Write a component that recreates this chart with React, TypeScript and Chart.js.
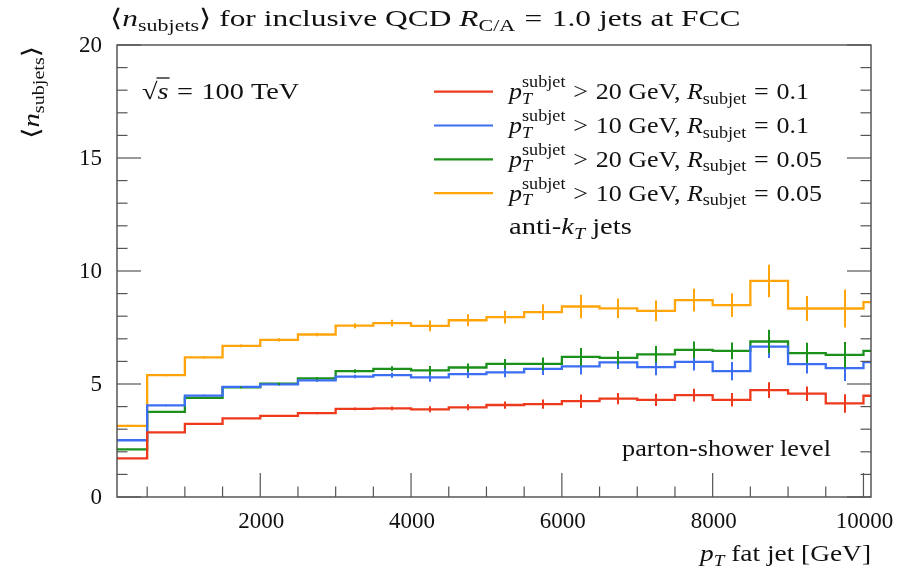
import React, { useEffect, useRef } from "react";
import { Chart, registerables } from "chart.js";

Chart.register(...registerables);

// ---- data ----
const binEdges = [0, 500, 1000, 1500, 2000, 2500, 3000, 3500, 4000, 4500, 5000, 5500, 6000, 6500, 7000, 7500, 8000, 8500, 9000, 9500, 10000];
const lastEdge = 10500;

const redVals = [1.71, 2.86, 3.24, 3.48, 3.59, 3.71, 3.90, 3.92, 3.88, 3.97, 4.07, 4.11, 4.24, 4.35, 4.30, 4.51, 4.30, 4.73, 4.57, 4.14, 4.48];
const blueVals = [2.51, 4.05, 4.49, 4.87, 4.98, 5.16, 5.33, 5.39, 5.29, 5.44, 5.51, 5.67, 5.78, 5.96, 5.75, 5.98, 5.57, 6.65, 5.88, 5.70, 5.97];
const greenVals = [2.11, 3.77, 4.39, 4.85, 5.01, 5.25, 5.57, 5.67, 5.60, 5.73, 5.89, 5.89, 6.20, 6.16, 6.31, 6.51, 6.47, 6.88, 6.37, 6.29, 6.47];
const orangeVals = [3.15, 5.39, 6.18, 6.69, 6.95, 7.19, 7.58, 7.69, 7.57, 7.82, 7.96, 8.18, 8.43, 8.35, 8.24, 8.71, 8.49, 9.56, 8.34, 8.34, 8.62];

const redErr = [0.02, 0.02, 0.02, 0.03, 0.04, 0.05, 0.06, 0.08, 0.13, 0.13, 0.16, 0.20, 0.30, 0.25, 0.27, 0.28, 0.30, 0.35, 0.32, 0.41, 0.33];
const blueErr = [0.03, 0.03, 0.03, 0.04, 0.05, 0.06, 0.08, 0.11, 0.19, 0.18, 0.21, 0.27, 0.36, 0.30, 0.36, 0.38, 0.40, 0.50, 0.42, 0.57, 0.45];
const greenErr = [0.03, 0.03, 0.03, 0.04, 0.05, 0.06, 0.08, 0.11, 0.20, 0.18, 0.22, 0.28, 0.39, 0.30, 0.37, 0.37, 0.37, 0.52, 0.45, 0.57, 0.45];
const orangeErr = [0.05, 0.05, 0.05, 0.06, 0.07, 0.08, 0.11, 0.15, 0.24, 0.27, 0.28, 0.35, 0.52, 0.43, 0.46, 0.50, 0.52, 0.72, 0.55, 0.84, 0.60];

const xMajorTicks = [2000, 4000, 6000, 8000, 10000];
const xMinorTicks = [500, 1000, 1500, 2500, 3000, 3500, 4500, 5000, 5500, 6500, 7000, 7500, 8500, 9000, 9500];
const yMajorTicks = [0, 5, 10, 15, 20];
const yMinorTicks = [1, 2, 3, 4, 6, 7, 8, 9, 11, 12, 13, 14, 16, 17, 18, 19];

const legendCuts = [
  { pt: "20", r: "0.1" },
  { pt: "10", r: "0.1" },
  { pt: "20", r: "0.05" },
  { pt: "10", r: "0.05" },
];

const RED = "#ee3a1c";
const BLUE = "#3c6ef2";
const GREEN = "#1b911b";
const ORANGE = "#ffa50a";

const series = [
  { vals: redVals, err: redErr, color: RED },
  { vals: blueVals, err: blueErr, color: BLUE },
  { vals: greenVals, err: greenErr, color: GREEN },
  { vals: orangeVals, err: orangeErr, color: ORANGE },
];

// ---- rich text helpers ----
const FAM = '"Liberation Serif", "DejaVu Serif", serif';
const fnt = (size: number, it: boolean) => `${it ? "italic " : ""}${size}px ${FAM}`;

type Run = { t?: string; it?: boolean; pos?: "sub" | "sup"; sup?: string; sub?: string; gap?: number };

function runWidth(ctx: CanvasRenderingContext2D, r: Run, size: number) {
  const s = size * 0.7;
  if (r.gap !== undefined) return r.gap * size;
  if (r.sup !== undefined) {
    ctx.font = fnt(s, false);
    const a = ctx.measureText(r.sup).width;
    ctx.font = fnt(s, true);
    const b = ctx.measureText(r.sub || "").width;
    return Math.max(a, b);
  }
  ctx.font = fnt(r.pos ? s : size, !!r.it);
  return ctx.measureText(r.t || "").width;
}

function drawRich(
  ctx: CanvasRenderingContext2D,
  runs: Run[],
  x: number,
  y: number,
  size: number,
  align: "left" | "right" | "center" = "left",
  sx = 1
) {
  ctx.save();
  ctx.textAlign = "left";
  ctx.textBaseline = "alphabetic";
  const widths = runs.map((r) => runWidth(ctx, r, size) * sx);
  const total = widths.reduce((a, b) => a + b, 0);
  let cx = align === "left" ? x : align === "right" ? x - total : x - total / 2;
  const s = size * 0.7;
  const put = (t: string, px: number, py: number) => {
    ctx.save();
    ctx.translate(px, py);
    ctx.scale(sx, 1);
    ctx.fillText(t, 0, 0);
    ctx.restore();
  };
  runs.forEach((r, i) => {
    if (r.gap !== undefined) {
      // spacing only
    } else if (r.sup !== undefined) {
      ctx.font = fnt(s, false);
      put(r.sup, cx, y - size * 0.52);
      ctx.font = fnt(s, true);
      put(r.sub || "", cx, y + size * 0.2);
    } else if (r.pos) {
      ctx.font = fnt(s, !!r.it);
      put(r.t || "", cx, y + (r.pos === "sub" ? size * 0.2 : -size * 0.45));
    } else {
      ctx.font = fnt(size, !!r.it);
      put(r.t || "", cx, y);
    }
    cx += widths[i];
  });
  ctx.restore();
  return total;
}

const REL = 0.3; // thick math space around relations

const decorPlugin = {
  id: "decor",
  afterDatasetsDraw(chart: any) {
    const ctx: CanvasRenderingContext2D = chart.ctx;
    const xs = chart.scales.x;
    const ys = chart.scales.y;
    const area = chart.chartArea;
    ctx.save();
    ctx.beginPath();
    ctx.rect(area.left, area.top, area.right - area.left, area.bottom - area.top);
    ctx.clip();
    series.forEach((s) => {
      ctx.strokeStyle = s.color;
      ctx.lineWidth = 2;
      s.vals.forEach((v, i) => {
        const xc = (binEdges[i] + (i + 1 < binEdges.length ? binEdges[i + 1] : lastEdge)) / 2;
        if (xc < xs.min || xc > xs.max) return;
        const px = Math.round(xs.getPixelForValue(xc));
        const e = s.err[i];
        ctx.beginPath();
        ctx.moveTo(px, ys.getPixelForValue(v - e));
        ctx.lineTo(px, ys.getPixelForValue(v + e));
        ctx.stroke();
      });
    });
    ctx.restore();
  },
  afterDraw(chart: any) {
    const ctx: CanvasRenderingContext2D = chart.ctx;
    const xs = chart.scales.x;
    const ys = chart.scales.y;
    const { left, right, top, bottom } = chart.chartArea;
    ctx.save();
    // frame
    ctx.strokeStyle = "#4a4a4a";
    ctx.lineWidth = 1.4;
    ctx.strokeRect(left, top, right - left, bottom - top);
    // ticks
    ctx.strokeStyle = "#555";
    ctx.lineWidth = 1.2;
    const major = 24;
    const minor = 10.5;
    xMajorTicks.forEach((v) => {
      const p = xs.getPixelForValue(v);
      ctx.beginPath(); ctx.moveTo(p, bottom); ctx.lineTo(p, bottom - major); ctx.stroke();
    });
    xMinorTicks.forEach((v) => {
      const p = xs.getPixelForValue(v);
      ctx.beginPath(); ctx.moveTo(p, bottom); ctx.lineTo(p, bottom - minor); ctx.stroke();
    });
    yMajorTicks.forEach((v) => {
      const p = ys.getPixelForValue(v);
      ctx.beginPath(); ctx.moveTo(left, p); ctx.lineTo(left + major, p); ctx.stroke();
      ctx.beginPath(); ctx.moveTo(right, p); ctx.lineTo(right - major, p); ctx.stroke();
    });
    yMinorTicks.forEach((v) => {
      const p = ys.getPixelForValue(v);
      ctx.beginPath(); ctx.moveTo(left, p); ctx.lineTo(left + minor, p); ctx.stroke();
      ctx.beginPath(); ctx.moveTo(right, p); ctx.lineTo(right - minor, p); ctx.stroke();
    });
    // tick labels
    ctx.fillStyle = "#111";
    ctx.font = fnt(23, false);
    ctx.textAlign = "center";
    ctx.textBaseline = "alphabetic";
    xMajorTicks.forEach((v) => ctx.fillText(String(v), xs.getPixelForValue(v) + 1, 528));
    ctx.textAlign = "right";
    ctx.textBaseline = "middle";
    yMajorTicks.forEach((v) => ctx.fillText(String(v), 102, ys.getPixelForValue(v) + 1));

    // title
    ctx.fillStyle = "#111";
    drawRich(ctx, [
      { t: "⟨" }, { t: "n", it: true }, { t: "subjets", pos: "sub" }, { t: "⟩ for inclusive QCD " },
      { t: "R", it: true }, { t: "C/A", pos: "sub" }, { gap: REL }, { t: "=" }, { gap: REL }, { t: "1.0 jets at FCC" },
    ], 110, 26, 24, "left", 1.31);

    // x axis title
    drawRich(ctx, [{ t: "p", it: true }, { t: "T", it: true, pos: "sub" }, { t: " fat jet [GeV]" }], right, 561, 23, "right", 1.19);

    // y axis title
    ctx.save();
    ctx.translate(39, 46);
    ctx.rotate(-Math.PI / 2);
    drawRich(ctx, [{ t: "⟨" }, { t: "n", it: true }, { t: "subjets", pos: "sub" }, { t: "⟩" }], 0, 0, 24, "right", 1.2);
    ctx.restore();

    // sqrt(s) label
    const sqx = 142;
    const sqy = 99;
    const SX = 1.23;
    ctx.textAlign = "left";
    ctx.textBaseline = "alphabetic";
    const wRoot = drawRich(ctx, [{ t: "√" }], sqx, sqy, 23, "left", SX);
    const wS = drawRich(ctx, [{ t: "s", it: true }], sqx + wRoot, sqy, 23, "left", SX);
    ctx.strokeStyle = "#111";
    ctx.lineWidth = 1.3;
    ctx.beginPath();
    ctx.moveTo(sqx + wRoot - 1, sqy - 21);
    ctx.lineTo(sqx + wRoot + wS + 1, sqy - 21);
    ctx.stroke();
    drawRich(ctx, [{ gap: REL }, { t: "=" }, { gap: REL }, { t: "100 TeV" }], sqx + wRoot + wS, sqy, 23, "left", SX);

    // legend
    const rowY = [91.7, 125.5, 159.3, 193.1];
    legendCuts.forEach((c, i) => {
      ctx.strokeStyle = series[i].color;
      ctx.lineWidth = 2.2;
      ctx.beginPath();
      ctx.moveTo(434, rowY[i]);
      ctx.lineTo(493, rowY[i]);
      ctx.stroke();
      ctx.fillStyle = "#111";
      drawRich(ctx, [
        { t: "p", it: true }, { sup: "subjet", sub: "T" },
        { gap: REL }, { t: ">" }, { gap: REL }, { t: `${c.pt} GeV, ` }, { t: "R", it: true }, { t: "subjet", pos: "sub" },
        { gap: REL }, { t: "=" }, { gap: REL }, { t: c.r },
      ], 509, rowY[i] + 7.5, 23, "left", 1.13);
    });
    drawRich(ctx, [{ t: "anti-" }, { t: "k", it: true }, { t: "T", it: true, pos: "sub" }, { t: " jets" }], 509, 234, 23, "left", 1.24);

    // parton-shower level
    drawRich(ctx, [{ t: "parton-shower level" }], 831, 456, 23, "right", 1.14);
    ctx.restore();
  },
};

export default function App() {
  const ref = useRef<HTMLCanvasElement | null>(null);
  useEffect(() => {
    if (!ref.current) return;
    const mk = (vals: number[]) => [
      ...binEdges.map((x, i) => ({ x, y: vals[i] })),
      { x: lastEdge, y: vals[vals.length - 1] },
    ];
    const chart = new Chart(ref.current, {
      type: "line",
      data: {
        datasets: series.map((s) => ({
          data: mk(s.vals),
          borderColor: s.color,
          backgroundColor: s.color,
          borderWidth: 2.3,
          pointRadius: 0,
          stepped: "before" as const,
          fill: false,
        })),
      },
      options: {
        responsive: false,
        maintainAspectRatio: false,
        animation: false,
        events: [],
        layout: { padding: { left: 117, right: 30, top: 45, bottom: 77 } },
        plugins: { legend: { display: false }, tooltip: { enabled: false }, title: { display: false } },
        scales: {
          x: {
            type: "linear",
            min: 100,
            max: 10100,
            grid: { display: false },
            border: { display: false },
            ticks: { display: false },
            afterFit: (s: any) => { s.height = 0; },
          },
          y: {
            type: "linear",
            min: 0,
            max: 20,
            grid: { display: false },
            border: { display: false },
            ticks: { display: false },
            afterFit: (s: any) => { s.width = 0; },
          },
        },
      },
      plugins: [decorPlugin],
    } as any);
    return () => chart.destroy();
  }, []);
  return (
    <div style={{ position: "absolute", left: 0, top: 0, width: 901, height: 574, background: "#fff" }}>
      <canvas ref={ref} width={901} height={574} style={{ display: "block", width: 901, height: 574 }} />
    </div>
  );
}
